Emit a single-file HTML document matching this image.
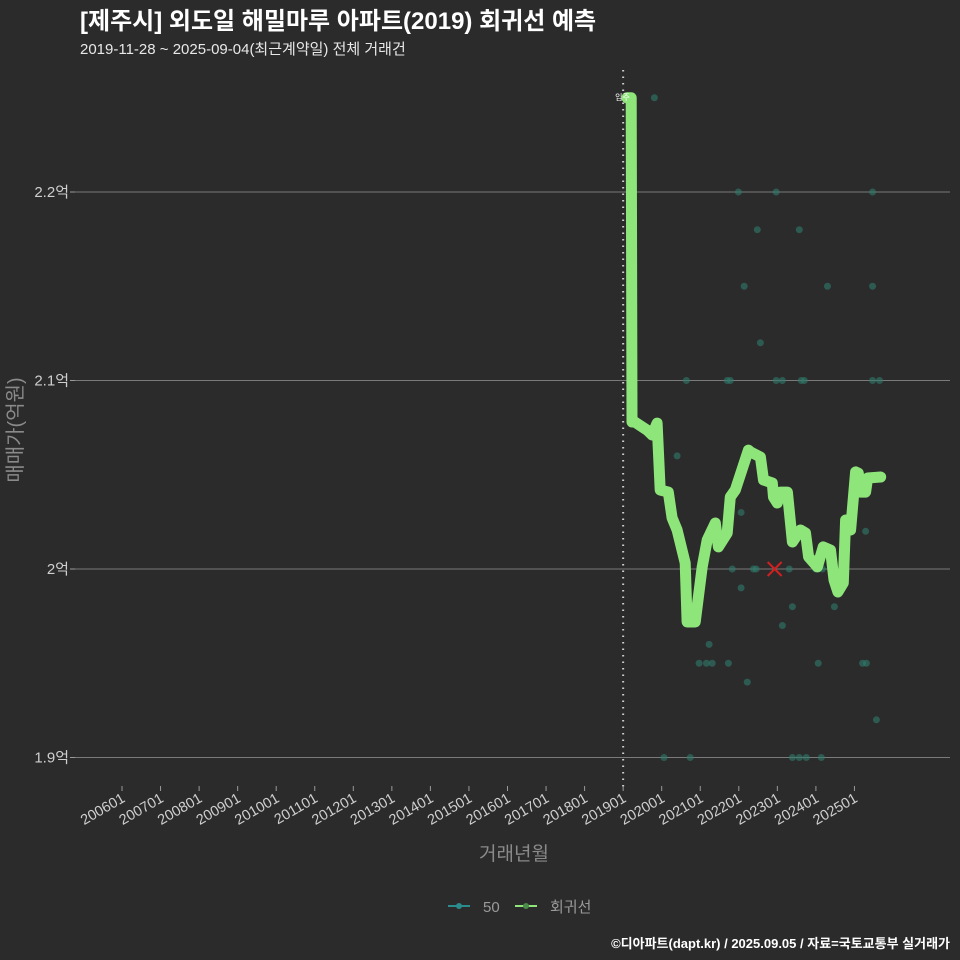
<!DOCTYPE html>
<html><head><meta charset="utf-8">
<style>
body{margin:0;background:#2b2b2c;}
svg{display:block;font-family:"Liberation Sans","Noto Sans CJK KR",sans-serif;}
</style></head><body>
<svg id="chart" width="960" height="960" viewBox="0 0 960 960" xmlns="http://www.w3.org/2000/svg">
<rect width="960" height="960" fill="#2b2b2c"/>
<text x="80" y="29" fill="#ffffff" font-size="24" font-weight="bold">[제주시] 외도일 해밀마루 아파트(2019) 회귀선 예측</text>
<text x="80" y="54" fill="#e8e8e8" font-size="15">2019-11-28 ~ 2025-09-04(최근계약일) 전체 거래건</text>
<g id="grid"></g>
<g id="xaxis"></g>
<g id="yaxis"></g>
<g id="points"></g>
<g id="line"></g>
<text x="22" y="430" fill="#8a8a8a" font-size="20" transform="rotate(-90 22 430)" text-anchor="middle">매매가(억원)</text>
<text x="514" y="860" fill="#8a8a8a" font-size="19" text-anchor="middle">거래년월</text>
<g>
<g>
<line x1="448" y1="906" x2="470" y2="906" stroke="#2a8c8c" stroke-width="2"/><circle cx="459" cy="906" r="3" fill="#2a8c8c"/>
<text x="483" y="912" fill="#9a9a9a" font-size="15">50</text></g>
<g>
<line x1="515" y1="906" x2="537" y2="906" stroke="#8ee67a" stroke-width="2"/><circle cx="526" cy="906" r="3" fill="#4a8a4a"/>
<text x="550" y="912" fill="#9a9a9a" font-size="15">회귀선</text></g>
</g>
<text x="950" y="948" fill="#ffffff" font-size="13" font-weight="bold" text-anchor="end">©디아파트(dapt.kr) / 2025.09.05 / 자료=국토교통부 실거래가</text>
</svg>
<script>
const xTickYears=[2006,2007,2008,2009,2010,2011,2012,2013,2014,2015,2016,2017,2018,2019,2020,2021,2022,2023,2024,2025];
const xTickLabels=["200601","200701","200801","200901","201001","201101","201201","201301","201401","201501","201601","201701","201801","201901","202001","202101","202201","202301","202401","202501"];
const yTicks=[1.9,2.0,2.1,2.2];
const yTickLabels=["1.9억","2억","2.1억","2.2억"];
const pointYears=[2019.81,2021.99,2022.97,2025.47,2022.48,2023.57,2022.14,2024.30,2025.47,2022.56,2020.64,2021.70,2021.78,2022.97,2023.13,2023.62,2023.70,2025.47,2025.65,
2020.40,2022.06,2025.29,2021.83,2022.38,2022.45,2023.31,2023.99,2024.06,2024.17,2022.06,2023.39,2024.48,2023.13,2021.23,2020.97,2021.16,2021.31,2021.73,2024.06,2025.21,2025.31,2022.22,2025.57,2020.06,2020.74,2023.39,2023.57,2023.75,2024.14];
const pointPrices=[2.25,2.2,2.2,2.2,2.18,2.18,2.15,2.15,2.15,2.12,2.1,2.1,2.1,2.1,2.1,2.1,2.1,2.1,2.1,
2.06,2.03,2.02,2.0,2.0,2.0,2.0,2.0,2.0,2.0,1.99,1.98,1.98,1.97,1.96,1.95,1.95,1.95,1.95,1.95,1.95,1.95,1.94,1.92,1.9,1.9,1.9,1.9,1.9,1.9];
const lineYears=[2019.10,2019.21,2019.23,2019.26,2019.62,2019.75,2019.88,2019.96,2020.17,2020.27,2020.40,2020.61,2020.66,2020.87,2021.05,2021.18,2021.39,2021.47,2021.70,2021.78,2021.91,2022.25,2022.30,2022.56,2022.64,2022.87,2022.90,2023.00,2023.08,2023.26,2023.39,2023.60,2023.73,2023.81,2024.04,2024.19,2024.38,2024.47,2024.57,2024.71,2024.77,2024.90,2025.03,2025.10,2025.16,2025.29,2025.34,2025.68];
const linePrices=[2.25,2.25,2.078,2.0785,2.0737,2.0711,2.0774,2.0419,2.0408,2.0271,2.0207,2.0032,1.9719,1.9719,2.0011,2.0154,2.0244,2.0117,2.0191,2.0382,2.0419,2.0631,2.0621,2.0594,2.0472,2.0456,2.0382,2.0350,2.0408,2.0408,2.0143,2.0207,2.0191,2.0064,2.0011,2.0117,2.0101,1.9942,1.9878,1.9926,2.0260,2.0207,2.0515,2.0509,2.0408,2.0408,2.0483,2.0488];
const NS="http://www.w3.org/2000/svg";
function xs(y){return 122+(y-2006)*38.55;}
function ys(p){return 569-(p-2.0)*1885;}
function mk(t,a,parent){const e=document.createElementNS(NS,t);for(const k in a)e.setAttribute(k,a[k]);parent.appendChild(e);return e;}
const grid=document.getElementById('grid'),xa=document.getElementById('xaxis'),ya=document.getElementById('yaxis');
yTicks.forEach((v,i)=>{
 const l=mk('line',{x1:75,x2:950,y1:ys(v),y2:ys(v),stroke:'#7a7a7a','stroke-width':1},grid);
 
 
 const tk=mk('line',{x1:70,x2:75,y1:ys(v),y2:ys(v),stroke:'#9a9a9a'},ya);
 
 
 const t=mk('text',{x:69,y:ys(v)+5,fill:'#cfcfcf','font-size':15,'text-anchor':'end'},ya);
 t.textContent=yTickLabels[i];
 
 
});
xTickYears.forEach((v,i)=>{
 const x=xs(v);
 const tk=mk('line',{x1:x,x2:x,y1:786,y2:791,stroke:'#9a9a9a'},xa);
 
 
 const t=mk('text',{x:x+4,y:801,fill:'#cfcfcf','font-size':14.5,'text-anchor':'end',transform:`rotate(-30 ${x+4} 801)`},xa);
 t.textContent=xTickLabels[i];
 
 
});
const vl=mk('line',{x1:xs(2019),x2:xs(2019),y1:70,y2:790,stroke:'#cfcfcf','stroke-width':2,'stroke-dasharray':'1.5 5'},grid);


const pg=document.getElementById('points');
pointYears.forEach((v,i)=>{
 const c=mk('circle',{cx:xs(v),cy:ys(pointPrices[i]),r:3.5,fill:'#2f7a6a','fill-opacity':0.6},pg);
 
 
});
const lg=document.getElementById('line');
const d=lineYears.map((v,i)=>(i?'L':'M')+xs(v).toFixed(1)+','+ys(linePrices[i]).toFixed(1)).join(' ');
const path=mk('path',{d:d,fill:'none',stroke:'#8ee67a','stroke-width':11,'stroke-linejoin':'round','stroke-linecap':'round'},lg);


const cx=xs(2022.93),cy=ys(2.0);
const x1=mk('path',{d:`M${cx-7},${cy-7}L${cx+7},${cy+7}M${cx-7},${cy+7}L${cx+7},${cy-7}`,stroke:'#d02020','stroke-width':2},lg);


const lb=mk('text',{x:xs(2019)-8,y:100,fill:'#ffffff','font-size':8},lg);
lb.textContent='입주';


</script>
</body></html>
